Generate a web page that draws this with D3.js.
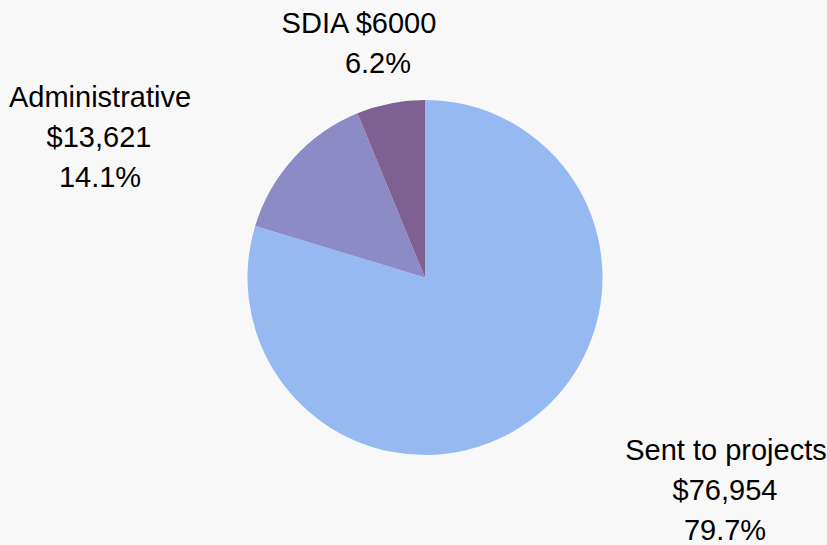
<!DOCTYPE html>
<html lang="en">
<head>
    <meta charset="UTF-8">
    <title>Fund allocation</title>
    <script src="https://d3js.org/d3.v7.min.js"></script>
    <style>
        body {
            margin: 0;
            padding: 0;
            background: #f8f8f8;
        }
        svg {
            display: block;
            background: #f8f8f8;
        }
        .label {
            font-family: "Liberation Sans", Arial, sans-serif;
            font-size: 29px;
            fill: #000;
        }
    </style>
</head>
<body>
    <svg id="chart" width="827" height="545"></svg>

    <script>
        // data
        const categories = ["Sent to projects", "Administrative", "SDIA"];
        const amounts = [76954, 13621, 6000];
        const amountLabels = ["$76,954", "$13,621", "$6000"];
        const percentLabels = ["79.7%", "14.1%", "6.2%"];
        const colors = ["#97b9f2", "#8c8bc5", "#7e6092"];

        const svg = d3.select("#chart");
        const cx = 425, cy = 277.5, radius = 177.5;

        const pie = d3.pie().sort(null).value(d => d.value);
        const arc = d3.arc().innerRadius(0).outerRadius(radius);

        const data = categories.map((c, i) => ({
            name: c,
            value: amounts[i],
            amount: amountLabels[i],
            pct: percentLabels[i],
            color: colors[i]
        }));

        const g = svg.append("g").attr("transform", `translate(${cx},${cy})`);

        g.selectAll("path")
            .data(pie(data))
            .enter()
            .append("path")
            .attr("d", arc)
            .attr("fill", d => d.data.color);

        // label blocks: centre x of each line, first baseline, and the lines
        const labels = [
            { xs: [726, 725, 725], y: 460, lines: [data[0].name, data[0].amount, data[0].pct] },
            { xs: [100, 99, 100], y: 107, lines: [data[1].name, data[1].amount, data[1].pct] },
            { xs: [359, 378], y: 33, lines: [data[2].name + " " + data[2].amount, data[2].pct] }
        ];
        const lineGap = 40;

        labels.forEach(l => {
            const t = svg.append("text")
                .attr("class", "label")
                .attr("text-anchor", "middle");
            l.lines.forEach((line, i) => {
                t.append("tspan")
                    .attr("x", l.xs[i])
                    .attr("y", l.y + i * lineGap)
                    .text(line);
            });
        });
    </script>
</body>
</html>
